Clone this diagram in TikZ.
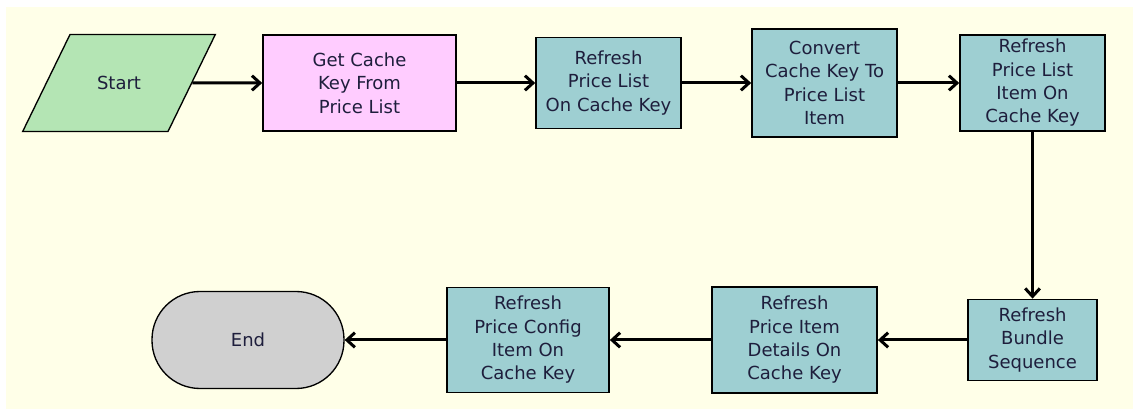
\documentclass[tikz,border=0pt]{standalone}
\usepackage{fontspec}
\setmainfont{DejaVu Sans}
\usetikzlibrary{arrows.meta,positioning,shapes.geometric}

\definecolor{bgyellow}{HTML}{FFFFE8}
\definecolor{startgreen}{HTML}{B4E5B4}
\definecolor{keypink}{HTML}{FFCCFF}
\definecolor{taskteal}{HTML}{9ECFD2}
\definecolor{endgrey}{HTML}{D0D0D0}
\definecolor{labelink}{HTML}{1E1E3C}

\begin{document}
\begin{tikzpicture}[->,on grid,line width=2.25pt,>={Straight Barb[length=6pt,width=11pt]},
      every node/.style={font=\fontsize{13.5}{17.5}\selectfont,text=labelink,align=center,inner sep=0pt},
      task/.style={rectangle,draw,line width=1.3pt,fill=taskteal,minimum width=108.75pt,minimum height=72pt}]
			\fill[bgyellow] (4.5pt,-5.25pt) rectangle (849.75pt,-306.75pt);
			\useasboundingbox (0,0) rectangle (849.75pt,-306.75pt);
			\node[trapezium,trapezium left angle=64,trapezium right angle=116,
			  draw,line width=1pt,fill=startgreen,text width=73.5pt,text height=41pt,text depth=31.75pt] (start) at (89.25pt,-62.25pt) {Start};
			\node[task,fill=keypink,minimum width=144.75pt] (getkey) [right=180.4pt of start] {Get Cache\\Key From\\Price List};
			\node[task,minimum height=68.25pt] (refreshlist) [right=186.75pt of getkey] {Refresh\\Price List\\On Cache Key};
			\node[task,minimum height=81pt] (convert) [right=162pt of refreshlist] {Convert\\Cache Key To\\Price List\\Item};
			\node[task] (refreshitem) [right=156pt of convert] {Refresh\\Price List\\Item On\\Cache Key};
			\node[task,minimum width=96.75pt,minimum height=60.75pt] (bundle) [below=192.75pt of refreshitem] {Refresh\\Bundle\\Sequence};
			\node[task,minimum width=123.75pt,minimum height=79.5pt] (details) [left=178.5pt of bundle] {Refresh\\Price Item\\Details On\\Cache Key};
			\node[task,minimum width=121.5pt,minimum height=78.75pt] (config) [left=199.9pt of details] {Refresh\\Price Config\\Item On\\Cache Key};
			\node[rectangle,rounded corners=36pt,draw,line width=1pt,fill=endgrey,minimum width=144pt,minimum height=72.75pt] (end) [left=210pt of config] {End};
			\path
				(start) edge (getkey)
				(getkey) edge (refreshlist)
				(refreshlist) edge (convert)
				(convert) edge (refreshitem)
				(refreshitem) edge (bundle)
				(bundle) edge (details)
				(details) edge (config)
				(config) edge (end);
		\end{tikzpicture}
\end{document}
